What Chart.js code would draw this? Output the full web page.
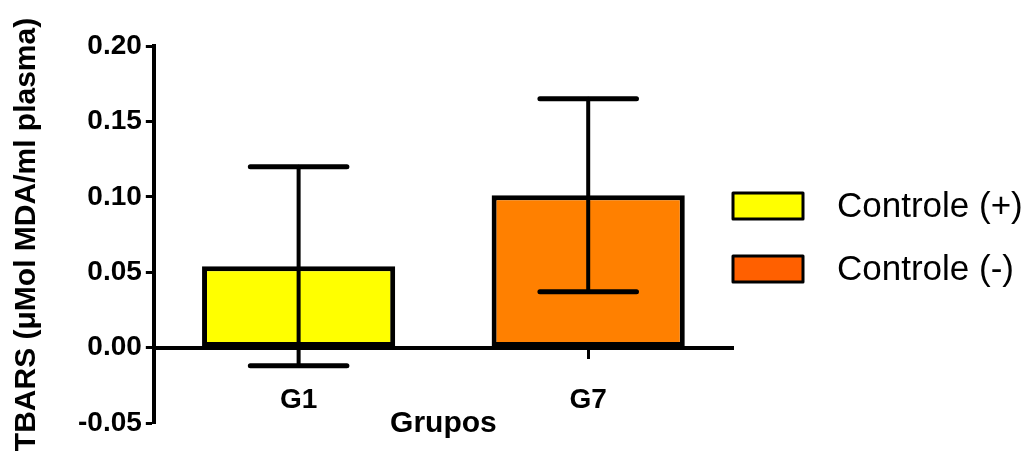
<!DOCTYPE html>
<html>
<head>
<meta charset="utf-8">
<script src="https://cdn.jsdelivr.net/npm/chart.js"></script>
<style>
  html, body { margin: 0; padding: 0; background: #fff; }
</style>
</head>
<body>
<canvas id="myChart" width="1034" height="457"></canvas>
<script>
// data
const groups = ['G1', 'G7'];
const tbarsMean = [0.054, 0.101];
const tbarsErr = [0.066, 0.064];
const barColors = ['#FFFF00', '#FF8000'];
const legendLabels = ['Controle (+)', 'Controle (-)'];
const legendColors = ['#FFFF00', '#FF6000'];
const yTicks = [-0.05, 0, 0.05, 0.10, 0.15, 0.20];

const fam = "'Liberation Sans', Arial, sans-serif";

// mean +/- error, drawn on top of the bars
const errorBars = {
  id: 'errorBars',
  afterDatasetsDraw(chart) {
    const ctx = chart.ctx;
    const y = chart.scales.y;
    const meta = chart.getDatasetMeta(0);
    ctx.save();
    ctx.strokeStyle = '#000';
    ctx.lineCap = 'round';
    meta.data.forEach((bar, i) => {
      const hi = y.getPixelForValue(tbarsMean[i] + tbarsErr[i]);
      const lo = y.getPixelForValue(tbarsMean[i] - tbarsErr[i]);
      const half = bar.width / 4;
      ctx.lineWidth = 4;
      ctx.beginPath();
      ctx.moveTo(bar.x, hi);
      ctx.lineTo(bar.x, lo);
      ctx.stroke();
      ctx.lineWidth = 5;
      ctx.beginPath();
      ctx.moveTo(bar.x - half, hi);
      ctx.lineTo(bar.x + half, hi);
      ctx.moveTo(bar.x - half, lo);
      ctx.lineTo(bar.x + half, lo);
      ctx.stroke();
    });
    ctx.restore();
  }
};

// legend on the right, boxes + text
const sideLegend = {
  id: 'sideLegend',
  afterDraw(chart) {
    const ctx = chart.ctx;
    const area = chart.chartArea;
    const boxW = 70, boxH = 26, gap = 63;
    const midY = (area.top + area.bottom) / 2 + 3;
    const x0 = area.right;
    ctx.save();
    legendLabels.forEach((txt, i) => {
      const cy = midY + (i - (legendLabels.length - 1) / 2) * gap;
      ctx.fillStyle = legendColors[i];
      ctx.strokeStyle = '#000';
      ctx.lineWidth = 3;
      ctx.lineJoin = 'round';
      ctx.fillRect(x0, cy - boxH / 2, boxW, boxH);
      ctx.strokeRect(x0, cy - boxH / 2, boxW, boxH);
      ctx.fillStyle = '#000';
      ctx.font = '35px ' + fam;
      ctx.textBaseline = 'middle';
      ctx.textAlign = 'left';
      ctx.fillText(txt, x0 + boxW + 34, cy + 1);
    });
    ctx.restore();
  }
};

const ctx = document.getElementById('myChart');
const chart = new Chart(ctx, {
  type: 'bar',
  data: {
    labels: groups,
    datasets: [{
      data: tbarsMean,
      backgroundColor: barColors,
      borderColor: '#000',
      borderWidth: 5,
      borderSkipped: false,
      barPercentage: 0.667,
      categoryPercentage: 1
    }]
  },
  options: {
    responsive: false,
    animation: false,
    layout: {
      padding: { left: 8, top: 46, right: 301, bottom: 34 }
    },
    plugins: {
      legend: { display: false },
      tooltip: { enabled: false }
    },
    scales: {
      x: {
        type: 'category',
        position: { y: 0 },
        offset: true,
        grid: {
          drawOnChartArea: false,
          tickLength: 9,
          tickWidth: 3,
          tickColor: '#000',
          offset: false
        },
        border: { color: '#000', width: 4 },
        ticks: {
          color: '#000',
          padding: 30,
          maxRotation: 0,
          font: { family: fam, size: 28, weight: 'bold', lineHeight: 1 }
        },
        title: {
          display: true,
          text: 'Grupos',
          color: '#000',
          font: { family: fam, size: 30, weight: 'bold', lineHeight: 1 },
          padding: { top: -36, bottom: 0 }
        }
      },
      y: {
        min: -0.05,
        max: 0.2,
        afterBuildTicks: s => { s.ticks = yTicks.map(v => ({ value: v })); },
        grid: {
          drawOnChartArea: false,
          tickLength: 8,
          tickWidth: 3,
          tickColor: '#000'
        },
        border: { color: '#000', width: 4 },
        ticks: {
          color: '#000',
          padding: 4,
          font: { family: fam, size: 28, weight: 'bold' },
          callback: v => v.toFixed(2)
        },
        title: {
          display: true,
          text: 'TBARS (μMol MDA/ml plasma)',
          color: '#000',
          font: { family: fam, size: 30, weight: 'bold', lineHeight: 1 },
          padding: { top: 4, bottom: 32 }
        }
      }
    }
  },
  plugins: [errorBars, sideLegend]
});
</script>
</body>
</html>
